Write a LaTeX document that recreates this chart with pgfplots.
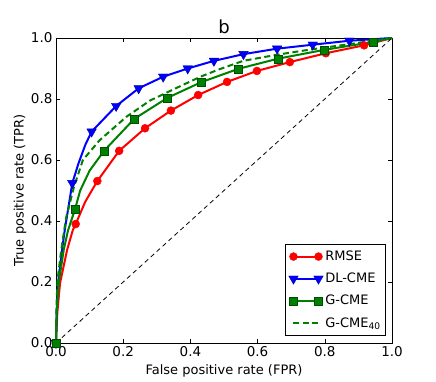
\documentclass[border=0pt]{standalone}
\usepackage{fontspec}
\setmainfont{DejaVu Sans}
\usepackage{pgfplots}
\pgfplotsset{compat=1.18}
\definecolor{mplred}{rgb}{1,0,0}
\definecolor{mplblue}{rgb}{0,0,1}
\definecolor{mplgreen}{rgb}{0,0.5,0}
\begin{document}
\begin{tikzpicture}
\begin{axis}[
  scale only axis, width=336pt, height=305pt,
  xmin=0, xmax=1, ymin=0, ymax=1,
  xtick={0,0.2,0.4,0.6,0.8,1}, ytick={0,0.2,0.4,0.6,0.8,1},
  tick align=inside, tick pos=both, major tick length=4pt,
  tick style={black, line width=0.6pt},
  axis line style={black, line width=0.9pt},
  ticklabel style={font=\fontsize{13.5}{16}\selectfont,
                   /pgf/number format/fixed, /pgf/number format/fixed zerofill,
                   /pgf/number format/precision=1,
                   /pgf/number format/assume math mode=true},
  font=\fontsize{13}{15}\selectfont,
  xlabel={False positive rate (FPR)},
  ylabel={True positive rate (TPR)},
  title={b},
  every axis x label/.style={at={(axis description cs:0.5,-0.092)}, anchor=center},
  every axis y label/.style={at={(axis description cs:-0.107,0.5)}, rotate=90, anchor=center},
  every axis title/.style={at={(axis description cs:0.5,1.015)}, anchor=base, font=\fontsize{18}{20}\selectfont},
  legend style={at={(axis description cs:1,0)}, anchor=south east, xshift=-6pt, yshift=7pt,
                draw=black, line width=0.8pt, fill=white, row sep=7pt,
                inner xsep=3pt, inner ysep=5pt,
                nodes={font=\fontsize{13}{15}\selectfont}},
  legend cell align=left,
  legend image code/.code={\draw[#1, mark indices={1,2}] plot coordinates {(0pt,0pt) (25pt,0pt)};},
  clip=false,
]
% RMSE
\addplot[mplred, line width=2pt, mark=*, mark size=4pt,
  mark options={solid, fill=mplred, draw=mplred, line width=0.4pt},
  mark indices={1,6,8,9,10,11,12,13,14,15,16,17}]
  coordinates {(0,0) (0.004,0.10) (0.012,0.196) (0.033,0.305) (0.050,0.370)
    (0.0586,0.390) (0.087,0.463) (0.123,0.531) (0.188,0.630) (0.265,0.704)
    (0.342,0.762) (0.423,0.813) (0.509,0.856) (0.598,0.892) (0.696,0.921)
    (0.803,0.950) (0.917,0.976) (1,1)};
\addlegendentry{RMSE}
% DL-CME
\addplot[mplblue, line width=2pt, mark=triangle*, mark size=5.5pt,
  mark options={solid, rotate=180, fill=mplblue, draw=blue!60!black, line width=0.4pt},
  mark indices={1,6,9,10,11,12,13,14,15,16,17,18}]
  coordinates {(0,0) (0.002,0.10) (0.006,0.196) (0.018,0.305) (0.026,0.370)
    (0.0485,0.524) (0.067,0.589) (0.087,0.649) (0.106,0.693) (0.179,0.777)
    (0.246,0.835) (0.319,0.873) (0.392,0.900) (0.470,0.925) (0.558,0.947)
    (0.658,0.965) (0.764,0.978) (0.873,0.991) (1,1)};
\addlegendentry{DL-CME}
% G-CME
\addplot[mplgreen, line width=2pt, mark=square*, mark size=4pt,
  mark options={solid, fill=mplgreen, draw=mplgreen!60!black, line width=0.4pt},
  mark indices={1,6,9,10,11,12,13,14,15,16}]
  coordinates {(0,0) (0.002,0.10) (0.008,0.196) (0.023,0.305) (0.036,0.370)
    (0.0565,0.438) (0.072,0.500) (0.100,0.565) (0.143,0.630) (0.233,0.735)
    (0.332,0.804) (0.432,0.855) (0.543,0.899) (0.660,0.932) (0.798,0.961)
    (0.944,0.987) (1,1)};
\addlegendentry{G-CME}
% G-CME40
\addplot[mplgreen, line width=2pt, dash pattern=on 6pt off 3.5pt]
  coordinates {(0,0) (0.001,0.10) (0.004,0.20) (0.015,0.30) (0.030,0.41)
    (0.053,0.51) (0.080,0.60) (0.130,0.665) (0.210,0.742) (0.280,0.795)
    (0.360,0.837) (0.430,0.873) (0.480,0.895) (0.557,0.925) (0.657,0.945)
    (0.756,0.962) (0.855,0.977) (0.954,0.993) (1,1)};
\addlegendentry{G-CME\textsubscript{40}}
% chance line
\addplot[black, line width=0.8pt, dash pattern=on 4.5pt off 3.5pt, forget plot]
  coordinates {(0,0) (1,1)};
\coordinate (sw) at (rel axis cs:0,0);
\end{axis}
\path (sw) ++(-56pt,-39pt) rectangle ++(436pt,382pt);
\end{tikzpicture}
\end{document}
